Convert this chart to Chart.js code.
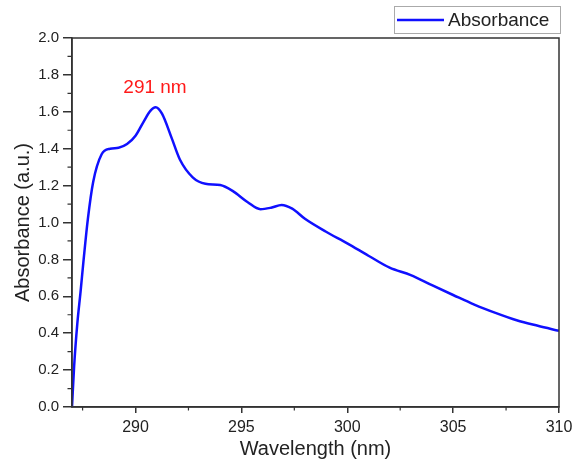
<!DOCTYPE html>
<html><head><meta charset="utf-8">
<script src="https://cdn.jsdelivr.net/npm/chart.js@4"></script>
<style>html,body{margin:0;padding:0;background:#fff}canvas{display:block}</style>
</head><body>
<canvas id="c" width="574" height="467"></canvas>
<script>
const wavelengths = [287, 287.1, 287.25, 287.4, 287.55, 287.75, 288.0, 288.4, 288.8, 289.2, 289.6, 290.0, 290.4, 290.7, 290.95, 291.25, 291.7, 292.1, 292.7, 293.3, 294.0, 294.6, 295.3, 295.9, 296.4, 296.9, 297.4, 298, 299, 300, 301, 302, 303, 304, 305, 306, 307, 308, 309, 310];
const absorbance = [0, 0.22, 0.45, 0.62, 0.8, 1.02, 1.22, 1.37, 1.40, 1.405, 1.425, 1.47, 1.55, 1.605, 1.625, 1.59, 1.46, 1.34, 1.245, 1.21, 1.203, 1.17, 1.11, 1.072, 1.08, 1.095, 1.075, 1.02, 0.95, 0.887, 0.82, 0.755, 0.715, 0.66, 0.607, 0.555, 0.51, 0.47, 0.44, 0.413];
const xTicks = [290, 295, 300, 305, 310];
const yTicks = [0, 0.2, 0.4, 0.6, 0.8, 1.0, 1.2, 1.4, 1.6, 1.8, 2.0];
const seriesName = 'Absorbance';
const peakLabel = '291 nm';
const peakPos = [290.92, 1.73];

const FONT = "'Liberation Sans', Arial, sans-serif";
const AX = '#333';

const framePlugin = {
  id: 'frame',
  afterDraw(chart) {
    const ctx = chart.ctx, a = chart.chartArea;
    const xs = chart.scales.x, ys = chart.scales.y;
    ctx.save();
    ctx.strokeStyle = AX; ctx.lineWidth = 1.5;
    ctx.strokeRect(a.left, a.top, a.right - a.left, a.bottom - a.top);
    // minor ticks
    ctx.lineWidth = 1.2;
    ctx.beginPath();
    for (let v = 287.5; v <= 310; v += 5) {
      const px = xs.getPixelForValue(v);
      ctx.moveTo(px, a.bottom); ctx.lineTo(px, a.bottom + 3.5);
    }
    for (let v = 0.1; v < 2.0; v += 0.2) {
      const py = ys.getPixelForValue(v);
      ctx.moveTo(a.left, py); ctx.lineTo(a.left - 4.5, py);
    }
    ctx.stroke();
    // annotation
    ctx.fillStyle = '#ff1a1a';
    ctx.font = "19px " + FONT;
    ctx.textAlign = 'center'; ctx.textBaseline = 'middle';
    ctx.fillText(peakLabel, xs.getPixelForValue(peakPos[0]), ys.getPixelForValue(peakPos[1]));
    // legend
    const lx = 394, ly = 6, lw = 166, lh = 27;
    ctx.fillStyle = '#fff';
    ctx.fillRect(lx, ly, lw, lh);
    ctx.strokeStyle = '#aaa'; ctx.lineWidth = 1;
    ctx.strokeRect(lx + 0.5, ly + 0.5, lw, lh);
    ctx.strokeStyle = chart.data.datasets[0].borderColor; ctx.lineWidth = 2.5;
    ctx.beginPath(); ctx.moveTo(397, ly + lh / 2 + 0.5); ctx.lineTo(444, ly + lh / 2 + 0.5); ctx.stroke();
    ctx.fillStyle = '#222'; ctx.font = "19px " + FONT;
    ctx.textAlign = 'left';
    ctx.fillText(chart.data.datasets[0].label, 448, ly + lh / 2 + 1);
    ctx.restore();
  }
};

new Chart(document.getElementById('c'), {
  type: 'line',
  data: {
    datasets: [{
      label: seriesName,
      data: wavelengths.map((w, i) => ({x: w, y: absorbance[i]})),
      borderColor: '#1010ff',
      borderWidth: 2.5,
      pointRadius: 0,
      fill: false,
      cubicInterpolationMode: 'monotone'
    }]
  },
  options: {
    responsive: false,
    animation: false,
    layout: {padding: {top: 38, right: 15, left: 0, bottom: 0}},
    plugins: {legend: {display: false}, tooltip: {enabled: false}},
    scales: {
      x: {
        type: 'linear', min: 287, max: 310,
        afterBuildTicks: s => { s.ticks = xTicks.map(v => ({value: v})); },
        afterFit: s => { s.height = 60; s.paddingRight = 0; s.paddingLeft = 0; },
        grid: {drawOnChartArea: false, tickLength: 6, color: AX, lineWidth: 1.5},
        border: {color: AX, width: 1.5},
        ticks: {color: '#222', font: {family: FONT, size: 16}, padding: 5, maxRotation: 0},
        title: {display: true, text: 'Wavelength (nm)', color: '#222', font: {family: FONT, size: 20}, padding: {top: 4, bottom: 6}}
      },
      y: {
        type: 'linear', min: 0, max: 2.0,
        afterBuildTicks: s => { s.ticks = yTicks.map(v => ({value: v})); },
        afterFit: s => { s.width = 72; s.paddingTop = 0; s.paddingBottom = 0; },
        grid: {drawOnChartArea: false, tickLength: 9, color: AX, lineWidth: 1.5},
        border: {color: AX, width: 1.5},
        ticks: {color: '#222', font: {family: FONT, size: 15}, padding: 4, callback: v => v.toFixed(1)},
        title: {display: true, text: 'Absorbance (a.u.)', color: '#222', font: {family: FONT, size: 20}, padding: {top: 11, bottom: 4}}
      }
    }
  },
  plugins: [framePlugin]
});
</script>
</body></html>
